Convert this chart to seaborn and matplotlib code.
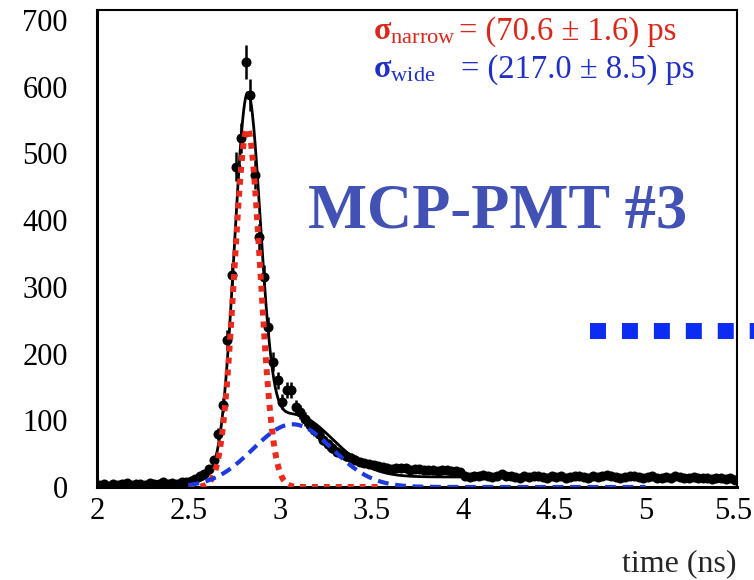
import numpy as np
import pandas as pd
import matplotlib
matplotlib.use("Agg")
import matplotlib.pyplot as plt
import matplotlib.transforms as mtransforms
import seaborn as sns
from matplotlib.lines import Line2D
from matplotlib.ticker import MultipleLocator, FuncFormatter

# ---------------- data ----------------
time_start = 2.0          # ns, first bin low edge
bin_width = 0.025         # ns
counts = [
    # 2.0 - 2.5 ns
    3, 4, 2, 5, 3, 4, 6, 3, 5, 4, 3, 6, 4, 5, 7, 5, 6, 4, 7, 8,
    # 2.5 - 4.0 ns
    9, 12, 16, 20, 27, 40, 79, 123, 220, 318,
    480, 523, 637, 588, 468, 375, 315, 240, 188, 160,
    128, 146, 145, 120, 112, 102, 93, 86, 80, 71,
    64, 58, 53, 50, 46, 44, 41, 38, 36, 35,
    33, 31, 30, 29, 27, 29, 28, 28, 26, 27,
    27, 25, 26, 26, 24, 25, 25, 24, 24, 22,
    # 4.0 - 5.5 ns
    16, 15, 17, 16, 18, 17, 15, 16, 19, 17,
    16, 15, 14, 16, 15, 17, 16, 15, 14, 16,
    15, 16, 14, 15, 17, 16, 15, 14, 16, 15,
    17, 18, 16, 15, 14, 15, 16, 17, 15, 14,
    15, 16, 14, 13, 15, 14, 16, 15, 14, 13,
    15, 14, 13, 14, 12, 13, 14, 12, 13, 11,
]

# fit components (amplitude [counts], mean [ns], sigma [ns])
narrow_params = [537.0, 2.822, 0.0706]
wide_params = [94.0, 3.07, 0.217]
# extra tail/background of the total fit: constant, tail level, onset, onset width
tail_params = [3.0, 12.0, 2.9, 0.05]

narrow_range = [2.5, 3.55]
wide_range = [2.5, 5.0]
total_range = [2.0, 5.5]

legend_narrow = r"$\mathbf{\sigma}_{\mathrm{narrow}}$"
legend_narrow_val = "= (70.6 ± 1.6) ps"
legend_wide = r"$\mathbf{\sigma}_{\mathrm{wide}}$"
legend_wide_val = "= (217.0 ± 8.5) ps"
title_text = "MCP-PMT #3"
x_label = "time (ns)"

x_tick_values = [2.0, 2.5, 3.0, 3.5, 4.0, 4.5, 5.0, 5.5]
x_ticks_minor = 0.1
y_ticks_major = 100
y_ticks_minor = 20
x_limits = [2.0, 5.5]
y_limits = [0, 715]

# ---------------- style ----------------
sns.set_theme(style="white")
plt.rcParams["font.family"] = ["Liberation Serif", "DejaVu Serif"]
plt.rcParams["mathtext.fontset"] = "custom"
plt.rcParams["mathtext.rm"] = "Liberation Serif"
plt.rcParams["mathtext.it"] = "Liberation Serif:italic"
plt.rcParams["mathtext.bf"] = "Liberation Serif:bold"

RED = "#ea2a1c"
BLUE_FIT = "#1d3ae0"
TXT_RED = "#d8281c"
TXT_BLUE = "#2030c4"
TITLE_BLUE = "#4252b4"
ARROW_BLUE = "#0d2cf2"

W, H = 754, 580
fig = plt.figure(figsize=(W / 100, H / 100), dpi=100)
fig.patch.set_facecolor("white")


def fx(px):
    return px / W


def fy(py):
    return 1 - py / H


ax = fig.add_axes([fx(97), fy(487), (737 - 97) / W, (487 - 10) / H])
ax.set_facecolor("white")

# ---------------- data points ----------------
counts_arr = np.asarray(counts, dtype=float)
times = time_start + bin_width * (np.arange(len(counts_arr)) + 0.5)
df = pd.DataFrame({"time": times, "counts": counts_arr})

ax.errorbar(df["time"], df["counts"], yerr=np.sqrt(df["counts"]), fmt="none",
            ecolor="black", elinewidth=1.8, capsize=0, zorder=2)
sns.scatterplot(data=df, x="time", y="counts", color="black", s=52,
                linewidth=0, ax=ax, zorder=3)


# ---------------- fit curves ----------------
def gauss(t, p):
    a, m, s = p
    return a * np.exp(-0.5 * ((t - m) / s) ** 2)


def tail(t, p):
    c, a, t0, w = p
    return c + a / (1 + np.exp(-(t - t0) / w))


t_tot = np.linspace(total_range[0], total_range[1], 1401)
tot = gauss(t_tot, narrow_params) + gauss(t_tot, wide_params) + tail(t_tot, tail_params)
sns.lineplot(x=t_tot, y=tot, color="black", linewidth=2.0, ax=ax,
             estimator=None, sort=False, zorder=4)

t_n = np.linspace(narrow_range[0], narrow_range[1], 600)
sns.lineplot(x=t_n, y=gauss(t_n, narrow_params), color=RED, linewidth=4.3,
             linestyle=(0, (1.0, 1.0)), dash_capstyle="butt", ax=ax,
             estimator=None, sort=False, zorder=5)

t_w = np.linspace(wide_range[0], wide_range[1], 800)
sns.lineplot(x=t_w, y=gauss(t_w, wide_params), color=BLUE_FIT, linewidth=3.0,
             linestyle=(0, (2.6, 1.6)), dash_capstyle="butt", ax=ax,
             estimator=None, sort=False, zorder=6)

# ---------------- axes ----------------
ax.set_xlim(*x_limits)
ax.set_ylim(*y_limits)
ax.set_xticks(x_tick_values)
ax.xaxis.set_minor_locator(MultipleLocator(x_ticks_minor))
ax.yaxis.set_major_locator(MultipleLocator(y_ticks_major))
ax.yaxis.set_minor_locator(MultipleLocator(y_ticks_minor))
ax.xaxis.set_major_formatter(FuncFormatter(lambda v, _: f"{v:g}"))
ax.yaxis.set_major_formatter(FuncFormatter(lambda v, _: f"{v:g}"))
ax.tick_params(which="both", direction="in", top=False, right=False,
               colors="black", width=1.6)
ax.tick_params(which="major", length=17, labelsize=22)
ax.tick_params(which="minor", length=8.5)
ax.tick_params(axis="y", which="major", pad=21)
ax.tick_params(axis="x", which="major", pad=7)
for side in ["left", "bottom"]:
    ax.spines[side].set_linewidth(2.2)
for side in ["top", "right"]:
    ax.spines[side].set_linewidth(1.5)
for sp in ax.spines.values():
    sp.set_color("black")
    sp.set_visible(True)
ax.set_ylabel("")
ax.set_xlabel(x_label, loc="right", fontsize=23, labelpad=17)

# keep the last x tick label ("5.5") inside the picture
last_tick = ax.xaxis.get_major_ticks()[len(x_tick_values) - 1]
last_tick.label1.set_transform(
    last_tick.label1.get_transform()
    + mtransforms.ScaledTranslation(-4 / 100, 0, fig.dpi_scale_trans))

# ---------------- annotations ----------------
fig.text(fx(373), fy(40), legend_narrow, color=TXT_RED, fontsize=23,
         ha="left", va="baseline")
fig.text(fx(459), fy(40), legend_narrow_val, color=TXT_RED, fontsize=23.5,
         ha="left", va="baseline")
fig.text(fx(373), fy(78), legend_wide, color=TXT_BLUE, fontsize=23,
         ha="left", va="baseline")
fig.text(fx(461), fy(78), legend_wide_val, color=TXT_BLUE, fontsize=23.5,
         ha="left", va="baseline")

fig.text(fx(498), fy(228), title_text, color=TITLE_BLUE, fontsize=45,
         fontweight="bold", ha="center", va="baseline")

fig.add_artist(Line2D([fx(590), fx(800)], [fy(330.5), fy(330.5)],
                      color=ARROW_BLUE, linewidth=11.5,
                      linestyle=(0, (1, 1)), dash_capstyle="butt",
                      transform=fig.transFigure, zorder=10))

fig.savefig("out.png", dpi=100, facecolor="white")
